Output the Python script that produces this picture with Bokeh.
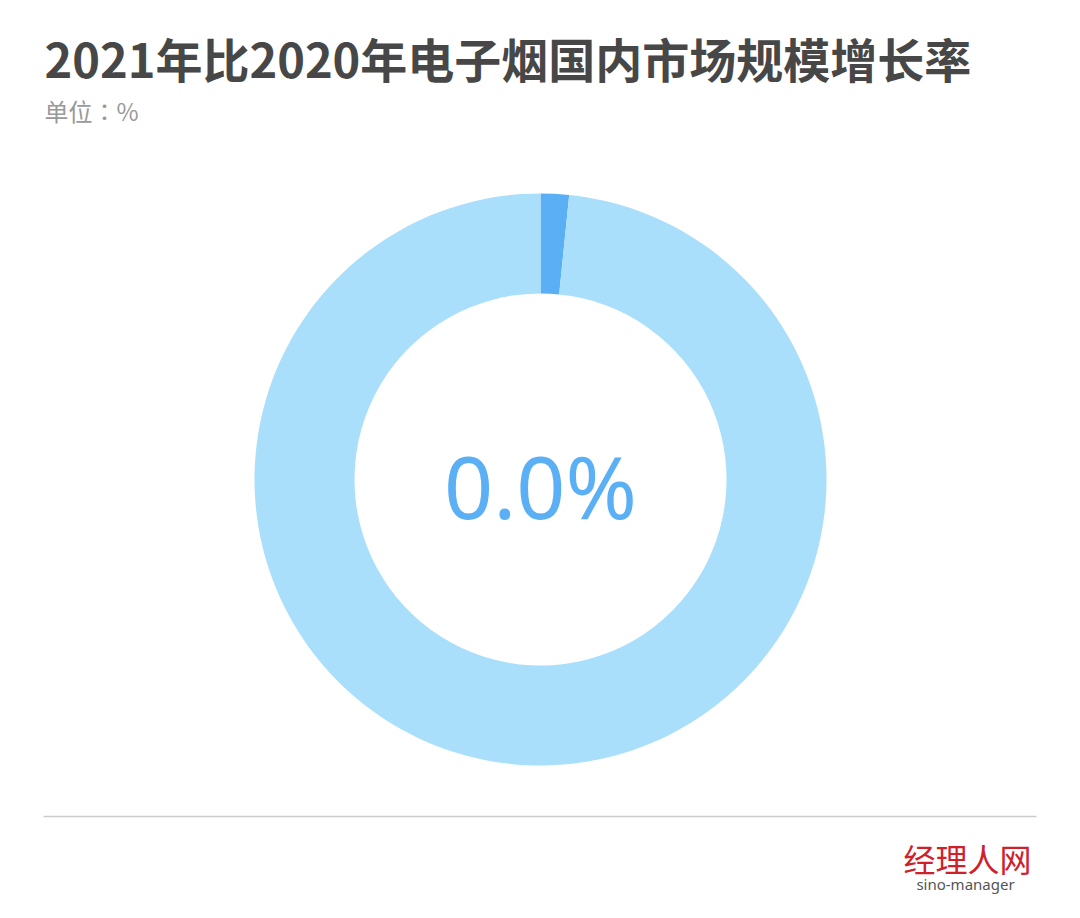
import math
from bokeh.plotting import figure
from bokeh.models import Range1d
from bokeh.core.properties import value
from bokeh.embed import file_html
from bokeh.resources import INLINE

# ---- data ----
title_text = "2021年比2020年电子烟国内市场规模增长率"
unit_text = "单位：%"
center_label = "0.0%"
slice_names = ["增长", "其余"]
slice_values = [1.6, 98.4]
slice_colors = ["#5aaff5", "#a9dffa"]

W, H = 1064, 902
def Y(py):
    return 918 - py

p = figure(width=W, height=H, output_backend="svg", toolbar_location=None,
           x_range=Range1d(0, W), y_range=Range1d(918 - H, 918),
           min_border=0)
p.axis.visible = False
p.grid.visible = False
p.outline_line_color = None
p.background_fill_color = "white"
p.border_fill_color = "white"

# donut
cx, cy = 540, Y(479)
total = sum(slice_values)
start = math.pi / 2
for v, c in zip(slice_values, slice_colors):
    end = start - 2 * math.pi * v / total
    p.annular_wedge(x=cx, y=cy, inner_radius=186, outer_radius=286,
                    start_angle=start, end_angle=end, direction="clock",
                    fill_color=c, line_color=None)
    start = end

# center label
p.text(x=[cx], y=[Y(485)], text=[center_label], text_align="center",
       text_baseline="middle", text_font=value("Noto Sans"),
       text_font_size="86px", text_color="#5aaff5")

# title
p.text(x=[44], y=[Y(57)], text=[title_text], text_align="left",
       text_baseline="middle", text_font=value("Noto Sans CJK SC"),
       text_font_style="bold", text_font_size="47px", text_color="#474747")
p.text(x=[44], y=[Y(110)], text=[unit_text], text_align="left",
       text_baseline="middle", text_font=value("Noto Sans CJK TC"),
       text_font_size="24px", text_color="#999999")

# divider
p.line(x=[43, 1036], y=[Y(816), Y(816)], line_color="#cccccc", line_width=1.5)

# logo
p.text(x=[967], y=[Y(857)], text=["经理人网"], text_align="center",
       text_baseline="middle", text_font=value("Noto Sans CJK SC"),
       text_font_size="32px", text_color="#d0202a")
p.text(x=[965], y=[Y(883)], text=["sino-manager"], text_align="center",
       text_baseline="middle", text_font=value("Noto Sans"),
       text_font_size="15px", text_color="#555555")

open("out.html", "w").write(file_html(p, INLINE))
